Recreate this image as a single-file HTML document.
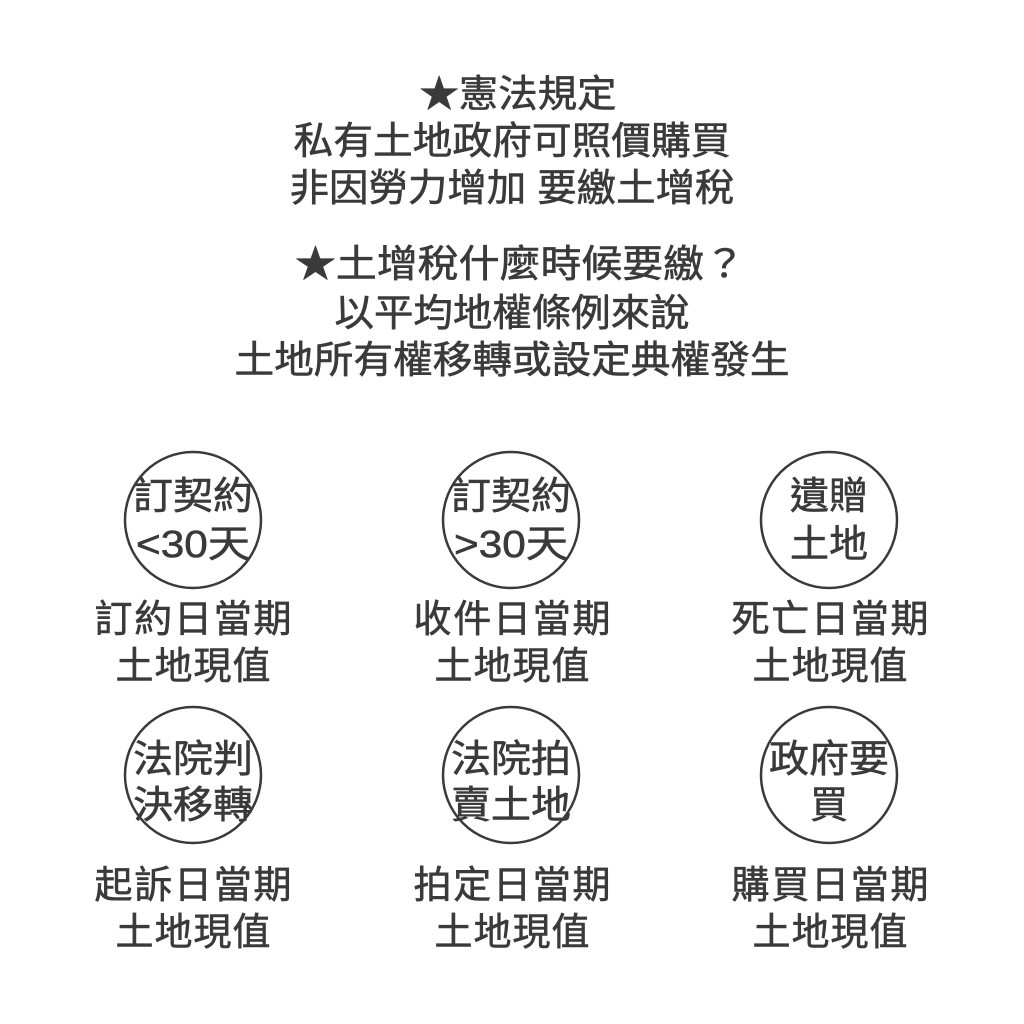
<!DOCTYPE html>
<html><head><meta charset="utf-8"><style>
html,body{margin:0;padding:0;background:#fff;}
svg{display:block;}
text{font-family:"Liberation Sans","Noto Sans CJK TC",sans-serif;fill:#3a3a3a;stroke:#3a3a3a;stroke-width:0.6;dominant-baseline:central;text-anchor:middle;}
.t{font-size:38px;}
.c{font-size:38px;}
circle{fill:none;stroke:#3a3a3a;stroke-width:2.5;}
</style></head><body>
<svg width="1024" height="1024" viewBox="0 0 1024 1024">
<text class="t" x="518" y="95" textLength="197" lengthAdjust="spacingAndGlyphs">★憲法規定</text>
<text class="t" x="512" y="142" textLength="437" lengthAdjust="spacingAndGlyphs">私有土地政府可照價購買</text>
<text class="t" x="512" y="189" textLength="445" lengthAdjust="spacingAndGlyphs">非因勞力增加 要繳土增稅</text>
<text class="t" x="520" y="265" textLength="450" lengthAdjust="spacingAndGlyphs">★土增稅什麼時候要繳？</text>
<text class="t" x="512" y="314" textLength="355" lengthAdjust="spacingAndGlyphs">以平均地權條例來說</text>
<text class="t" x="512" y="361" textLength="555" lengthAdjust="spacingAndGlyphs">土地所有權移轉或設定典權發生</text>

<circle cx="193" cy="520" r="68"/>
<circle cx="511" cy="520" r="68"/>
<circle cx="829" cy="520" r="68"/>
<circle cx="193" cy="775" r="68"/>
<circle cx="511" cy="775" r="68"/>
<circle cx="829" cy="775" r="68"/>

<text class="c" x="193" y="497" textLength="120" lengthAdjust="spacingAndGlyphs">訂契約</text>
<text class="c" x="193" y="545" textLength="114" lengthAdjust="spacingAndGlyphs">&lt;30天</text>
<text class="c" x="511" y="497" textLength="120" lengthAdjust="spacingAndGlyphs">訂契約</text>
<text class="c" x="511" y="545" textLength="114" lengthAdjust="spacingAndGlyphs">&gt;30天</text>
<text class="c" x="829" y="497" textLength="78" lengthAdjust="spacingAndGlyphs">遺贈</text>
<text class="c" x="829" y="545" textLength="78" lengthAdjust="spacingAndGlyphs">土地</text>

<text class="c" x="193" y="760" textLength="120" lengthAdjust="spacingAndGlyphs">法院判</text>
<text class="c" x="193" y="806" textLength="120" lengthAdjust="spacingAndGlyphs">決移轉</text>
<text class="c" x="511" y="760" textLength="120" lengthAdjust="spacingAndGlyphs">法院拍</text>
<text class="c" x="511" y="806" textLength="120" lengthAdjust="spacingAndGlyphs">賣土地</text>
<text class="c" x="829" y="760" textLength="120" lengthAdjust="spacingAndGlyphs">政府要</text>
<text class="c" x="829" y="806">買</text>

<text class="t" x="193" y="620" textLength="197">訂約日當期</text>
<text class="t" x="193" y="667" textLength="155">土地現值</text>
<text class="t" x="512" y="620" textLength="197">收件日當期</text>
<text class="t" x="512" y="667" textLength="155">土地現值</text>
<text class="t" x="830" y="620" textLength="197">死亡日當期</text>
<text class="t" x="830" y="667" textLength="155">土地現值</text>

<text class="t" x="193" y="886" textLength="197">起訴日當期</text>
<text class="t" x="193" y="933" textLength="155">土地現值</text>
<text class="t" x="512" y="886" textLength="197">拍定日當期</text>
<text class="t" x="512" y="933" textLength="155">土地現值</text>
<text class="t" x="830" y="886" textLength="197">購買日當期</text>
<text class="t" x="830" y="933" textLength="155">土地現值</text>
</svg>
</body></html>
